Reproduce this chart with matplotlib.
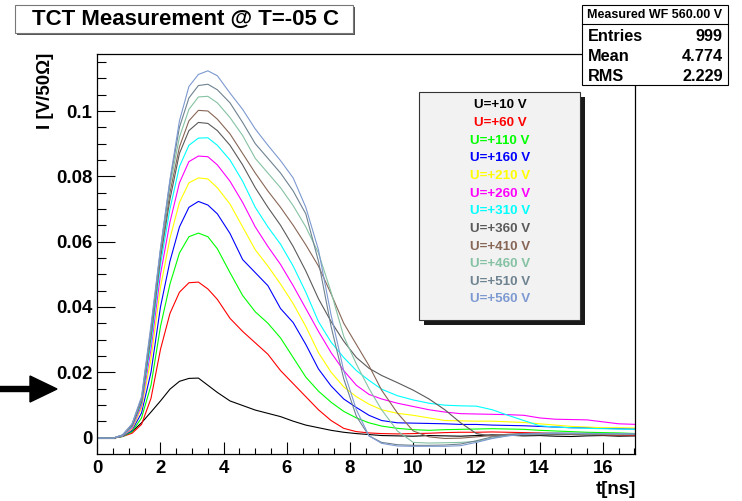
import matplotlib
matplotlib.use("Agg")
import matplotlib.pyplot as plt
from matplotlib.patches import Rectangle, FancyArrow
from matplotlib.lines import Line2D
from matplotlib.transforms import IdentityTransform
from matplotlib.ticker import MultipleLocator, FuncFormatter

plt.rcParams['font.family'] = ['Liberation Sans', 'DejaVu Sans']
plt.rcParams['font.weight'] = 'bold'

# time axis [ns]
t = [0.0, 0.5, 0.8, 1.1, 1.4, 1.7, 2.0, 2.3, 2.6, 2.9,
     3.2, 3.5, 3.8, 4.2, 4.6, 5.0, 5.4, 5.8, 6.2, 6.6,
     7.0, 7.4, 7.8, 8.2, 8.6, 9.0, 9.5, 10.0, 10.5, 11.0,
     11.5, 12.0, 12.5, 13.0, 13.5, 14.0, 14.5, 15.0, 15.5, 16.0,
     16.5, 17.1]

# current [V/50 Ohm] per bias voltage
i10 = [-0.0002, -0.0002, 0.0005, 0.0018, 0.0045, 0.0078, 0.0112, 0.0148, 0.0172, 0.0181,
       0.0182, 0.0160, 0.0138, 0.0112, 0.0098, 0.0084, 0.0074, 0.0064, 0.0050, 0.0038,
       0.0030, 0.0022, 0.0016, 0.0012, 0.0009, 0.0006, 0.0005, 0.0004, 0.0006, 0.0005,
       0.0004, 0.0006, 0.0008, 0.0007, 0.0005, 0.0006, 0.0004, 0.0003, 0.0005, 0.0006,
       0.0004, 0.0005]
i60 = [-0.0002, -0.0002, 0.0003, 0.0013, 0.0040, 0.0120, 0.0270, 0.0380, 0.0445, 0.0474,
       0.0476, 0.0455, 0.0423, 0.0365, 0.0325, 0.0290, 0.0255, 0.0205, 0.0165, 0.0125,
       0.0085, 0.0052, 0.0028, 0.0018, 0.0014, 0.0012, 0.0011, 0.0012, 0.0013, 0.0015,
       0.0016, 0.0016, 0.0017, 0.0016, 0.0015, 0.0014, 0.0012, 0.0011, 0.0010, 0.0008,
       0.0007, 0.0006]
i110 = [-0.0002, -0.0002, 0.0003, 0.0018, 0.0060, 0.0160, 0.0340, 0.0470, 0.0565, 0.0615,
        0.0626, 0.0615, 0.0578, 0.0505, 0.0435, 0.0385, 0.0350, 0.0305, 0.0245, 0.0185,
        0.0142, 0.0108, 0.0080, 0.0060, 0.0045, 0.0035, 0.0028, 0.0024, 0.0022, 0.0024,
        0.0025, 0.0026, 0.0027, 0.0026, 0.0025, 0.0022, 0.0020, 0.0018, 0.0016, 0.0015,
        0.0014, 0.0012]
i160 = [-0.0002, -0.0002, 0.0004, 0.0022, 0.0075, 0.0200, 0.0400, 0.0540, 0.0645, 0.0705,
        0.0723, 0.0712, 0.0685, 0.0625, 0.0545, 0.0505, 0.0465, 0.0395, 0.0352, 0.0285,
        0.0210, 0.0158, 0.0118, 0.0092, 0.0068, 0.0052, 0.0045, 0.0044, 0.0043, 0.0042,
        0.0040, 0.0040, 0.0038, 0.0037, 0.0036, 0.0034, 0.0032, 0.0030, 0.0030, 0.0028,
        0.0027, 0.0026]
i210 = [-0.0002, -0.0002, 0.0005, 0.0026, 0.0090, 0.0240, 0.0460, 0.0610, 0.0720, 0.0780,
        0.0795, 0.0792, 0.0765, 0.0715, 0.0645, 0.0575, 0.0525, 0.0470, 0.0410, 0.0340,
        0.0260, 0.0200, 0.0155, 0.0125, 0.0102, 0.0085, 0.0074, 0.0068, 0.0060, 0.0052,
        0.0051, 0.0050, 0.0050, 0.0048, 0.0046, 0.0042, 0.0038, 0.0034, 0.0032, 0.0030,
        0.0030, 0.0029]
i260 = [-0.0002, -0.0002, 0.0005, 0.0030, 0.0098, 0.0270, 0.0500, 0.0660, 0.0780, 0.0845,
        0.0862, 0.0860, 0.0835, 0.0785, 0.0720, 0.0645, 0.0585, 0.0530, 0.0465, 0.0395,
        0.0325, 0.0260, 0.0205, 0.0160, 0.0132, 0.0118, 0.0105, 0.0095, 0.0085, 0.0078,
        0.0073, 0.0072, 0.0071, 0.0070, 0.0068, 0.0060, 0.0056, 0.0055, 0.0054, 0.0048,
        0.0042, 0.0040]
i310 = [-0.0002, -0.0002, 0.0006, 0.0034, 0.0105, 0.0290, 0.0530, 0.0700, 0.0830, 0.0895,
        0.0917, 0.0918, 0.0895, 0.0850, 0.0785, 0.0705, 0.0645, 0.0592, 0.0525, 0.0445,
        0.0355, 0.0292, 0.0245, 0.0205, 0.0175, 0.0148, 0.0128, 0.0115, 0.0105, 0.0099,
        0.0097, 0.0096, 0.0085, 0.0068, 0.0052, 0.0036, 0.0032, 0.0030, 0.0028, 0.0027,
        0.0026, 0.0025]
i360 = [-0.0002, -0.0002, 0.0007, 0.0036, 0.0110, 0.0310, 0.0550, 0.0730, 0.0870, 0.0940,
        0.0965, 0.0962, 0.0940, 0.0895, 0.0835, 0.0765, 0.0705, 0.0650, 0.0585, 0.0510,
        0.0425, 0.0355, 0.0295, 0.0245, 0.0212, 0.0190, 0.0168, 0.0145, 0.0118, 0.0085,
        0.0045, 0.0012, 0.0004, 0.0006, 0.0008, 0.0008, 0.0009, 0.0009, 0.0008, 0.0008,
        0.0008, 0.0008]
i410 = [-0.0002, -0.0002, 0.0007, 0.0038, 0.0113, 0.0320, 0.0560, 0.0750, 0.0890, 0.0970,
        0.1002, 0.1000, 0.0975, 0.0930, 0.0870, 0.0810, 0.0755, 0.0705, 0.0650, 0.0590,
        0.0525, 0.0440, 0.0350, 0.0285, 0.0220, 0.0145, 0.0075, 0.0020, 0.0002, -0.0003,
        -0.0002, 0.0002, 0.0006, 0.0010, 0.0012, 0.0012, 0.0011, 0.0010, 0.0010, 0.0010,
        0.0009, 0.0009]
i460 = [-0.0002, -0.0002, 0.0007, 0.0039, 0.0117, 0.0328, 0.0570, 0.0770, 0.0920, 0.1005,
        0.1043, 0.1045, 0.1025, 0.0980, 0.0925, 0.0855, 0.0810, 0.0765, 0.0710, 0.0645,
        0.0565, 0.0445, 0.0310, 0.0225, 0.0150, 0.0085, 0.0020, -0.0015, -0.0017, -0.0016,
        -0.0015, -0.0012, -0.0002, 0.0006, 0.0010, 0.0012, 0.0012, 0.0012, 0.0011, 0.0011,
        0.0010, 0.0010]
i510 = [-0.0002, -0.0002, 0.0008, 0.0040, 0.0120, 0.0335, 0.0575, 0.0785, 0.0950, 0.1040,
        0.1078, 0.1082, 0.1065, 0.1025, 0.0965, 0.0900, 0.0855, 0.0810, 0.0755, 0.0685,
        0.0540, 0.0340, 0.0180, 0.0065, 0.0005, -0.0015, -0.0022, -0.0024, -0.0024, -0.0023,
        -0.0020, -0.0010, 0.0002, 0.0008, 0.0012, 0.0013, 0.0014, 0.0013, 0.0013, 0.0012,
        0.0012, 0.0011]
i560 = [-0.0002, -0.0002, 0.0008, 0.0042, 0.0125, 0.0345, 0.0580, 0.0790, 0.0970, 0.1075,
        0.1112, 0.1123, 0.1108, 0.1055, 0.1005, 0.0945, 0.0895, 0.0848, 0.0795, 0.0705,
        0.0575, 0.0375, 0.0205, 0.0085, 0.0005, -0.0018, -0.0026, -0.0027, -0.0027, -0.0027,
        -0.0025, -0.0015, -0.0003, 0.0005, 0.0010, 0.0012, 0.0013, 0.0013, 0.0012, 0.0012,
        0.0012, 0.0011]

curves = [i10, i60, i110, i160, i210, i260, i310, i360, i410, i460, i510, i560]
labels = ["U=+10 V", "U=+60 V", "U=+110 V", "U=+160 V", "U=+210 V", "U=+260 V",
          "U=+310 V", "U=+360 V", "U=+410 V", "U=+460 V", "U=+510 V", "U=+560 V"]
colors = ["#000000", "#ff0000", "#00ff00", "#0000ff", "#ffff00", "#ff00ff",
          "#00ffff", "#5a5a5a", "#876656", "#85c2a3", "#6e8290", "#7d99d1"]

stat_names = ["Entries", "Mean", "RMS"]
stat_values = ["999", "4.774", "2.229"]

W, H = 742, 501
fig = plt.figure(figsize=(W / 100, H / 100), dpi=100)
pix = IdentityTransform()


def fx(x):
    return x / W


def fy(y):
    return 1 - y / H


ax_l, ax_r, ax_t, ax_b = 97.3, 635.0, 54.0, 453.5
ax = fig.add_axes([fx(ax_l), fy(ax_b), fx(ax_r) - fx(ax_l), fy(ax_t) - fy(ax_b)])

for y, c in zip(curves, colors):
    ax.plot(t, y, color=c, lw=0.8)

ax.set_xlim(0, 17.02)
ax.set_ylim(-0.0049, 0.11746)
ax.xaxis.set_major_locator(MultipleLocator(2))
ax.xaxis.set_minor_locator(MultipleLocator(0.5))
ax.yaxis.set_major_locator(MultipleLocator(0.02))
ax.yaxis.set_minor_locator(MultipleLocator(0.005))
ax.xaxis.set_major_formatter(FuncFormatter(lambda v, p: "%g" % round(v, 3)))
ax.yaxis.set_major_formatter(FuncFormatter(lambda v, p: "%g" % round(v, 3)))
ax.tick_params(axis='both', which='both', direction='in', width=0.8, color='black',
               labelsize=13.4)
ax.tick_params(axis='y', which='major', length=12.7, pad=3.5)
ax.tick_params(axis='y', which='minor', length=6.3)
ax.tick_params(axis='x', which='major', length=8.6, pad=4.5)
ax.tick_params(axis='x', which='minor', length=4.3)
ax.tick_params(right=False, top=False, which='both')
for lab in ax.get_xticklabels() + ax.get_yticklabels():
    lab.set_fontweight('bold')
for s in ax.spines.values():
    s.set_linewidth(0.9)

# axis titles
fig.text(fx(45.5), fy(53), "I [V/50\u03a9]", rotation=90, ha='center', va='top',
         fontsize=13.5, fontweight='bold')
fig.text(fx(636), fy(489), "t[ns]", ha='right', va='center',
         fontsize=13.5, fontweight='bold')

# title box
fig.add_artist(Rectangle((16.5, H - 34.8), 338, 28.3, transform=pix,
                         facecolor='#555555', edgecolor='none', zorder=2))
fig.add_artist(Rectangle((15, H - 33.3), 338, 28.3, transform=pix,
                         facecolor='white', edgecolor='#777777', lw=0.8, zorder=2))
fig.text(fx(185), fy(19.5), "TCT Measurement @ T=-05 C", ha='center', va='center',
         fontsize=16, fontweight='bold', zorder=3)

# stats box
fig.add_artist(Rectangle((582, H - 85), 146, 80, transform=pix,
                         facecolor='white', edgecolor='black', lw=0.8, zorder=2))
fig.add_artist(Line2D([582, 728], [H - 24, H - 24], transform=pix,
                      color='black', lw=0.8, zorder=2))
fig.text(fx(655), fy(15.5), "Measured WF 560.00 V", ha='center', va='center',
         fontsize=9, fontweight='bold', zorder=3)
for k, (name, val) in enumerate(zip(stat_names, stat_values)):
    yy = 36.7 + 19.7 * k
    fig.text(fx(588), fy(yy), name, ha='left', va='center',
             fontsize=11.7, fontweight='bold', zorder=3)
    fig.text(fx(723), fy(yy), val, ha='right', va='center',
             fontsize=11.7, fontweight='bold', zorder=3)

# legend box with shadow
fig.add_artist(Rectangle((424, H - 325), 161, 227.7, transform=pix,
                         facecolor='#1a1a1a', edgecolor='none', zorder=2))
fig.add_artist(Rectangle((419, H - 320), 161, 227.7, transform=pix,
                         facecolor='#f2f2f2', edgecolor='#333333', lw=0.8, zorder=2))
for k, (lab, c) in enumerate(zip(labels, colors)):
    fig.text(fx(500), fy(105.5 + 17.63 * k), lab, ha='center', va='center',
             fontsize=9.6, fontweight='bold', color=c, zorder=3)

# arrow on the left
fig.add_artist(FancyArrow(0, H - 389, 57, 0, width=5, head_width=26, head_length=27,
                          length_includes_head=True, transform=pix,
                          color='black', zorder=3))

fig.savefig("out.png", dpi=100)
